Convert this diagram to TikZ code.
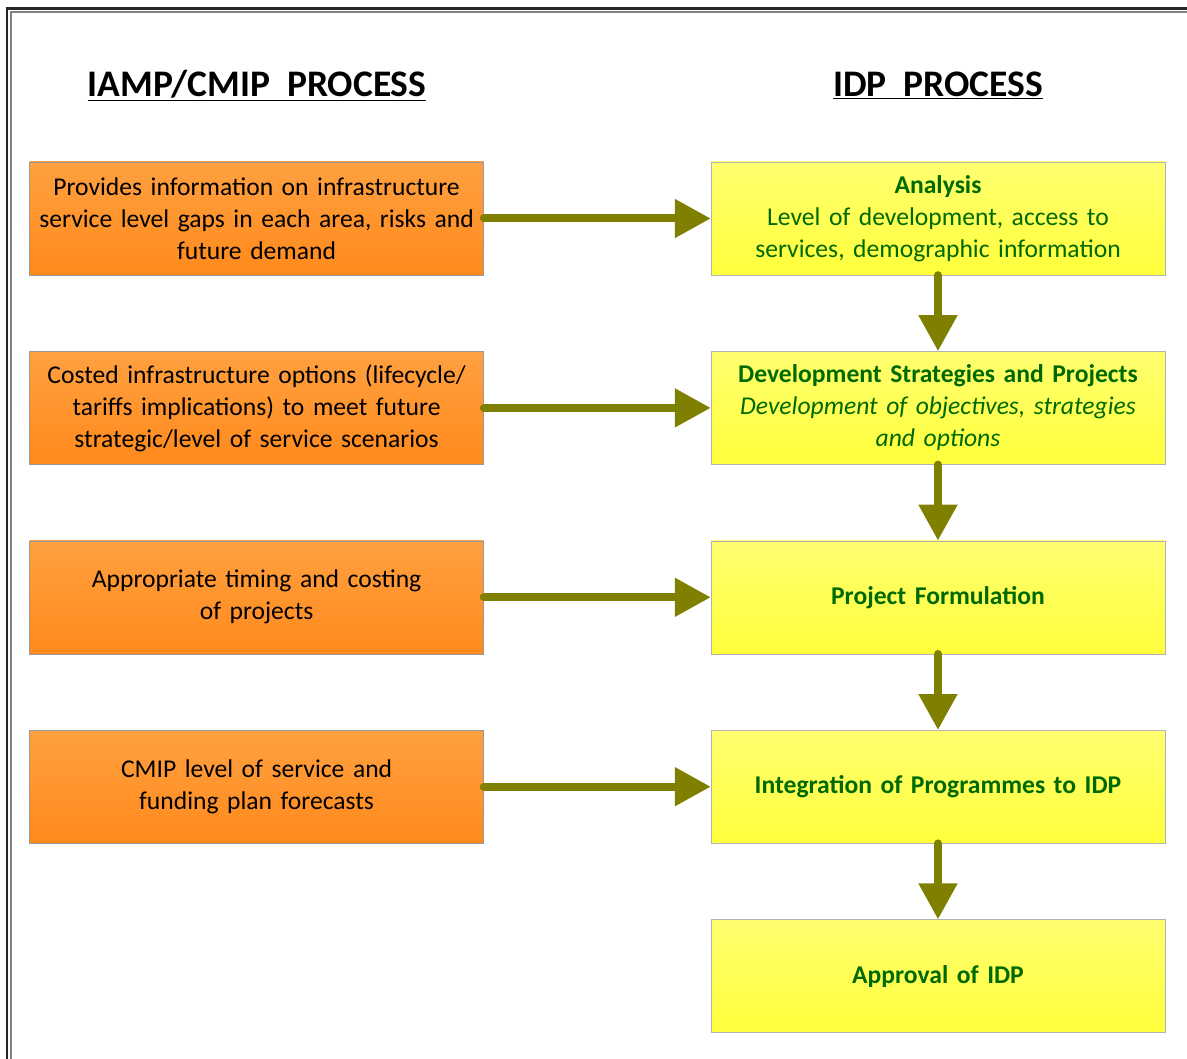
\documentclass[tikz,border=0pt]{standalone}
\usepackage{fontspec}
\setmainfont{Carlito}
\usetikzlibrary{positioning,arrows.meta}
\definecolor{orangetop}{HTML}{FFA040}
\definecolor{orangebot}{HTML}{FF8A1C}
\definecolor{yellowtop}{HTML}{FFFF70}
\definecolor{yellowbot}{HTML}{FFFF3C}
\definecolor{arrowolive}{HTML}{808000}
\definecolor{idpgreen}{HTML}{006A00}
\begin{document}
\begin{tikzpicture}[x=1pt, y=-1pt,
        header/.style={font=\fontsize{37.5}{44}\selectfont\bfseries},
        leftbox/.style={rectangle, draw=black!40, top color=orangetop, bottom color=orangebot,
            minimum width=454pt, minimum height=113pt, text width=446pt, align=center, inner sep=0pt,
            font=\fontsize{25.6}{32}\selectfont},
        rightbox/.style={rectangle, draw=black!30, top color=yellowtop, bottom color=yellowbot,
            minimum width=454pt, minimum height=113pt, text width=446pt, align=center, inner sep=0pt,
            text=idpgreen, font=\fontsize{25.6}{32}\selectfont},
        flowarrow/.style={draw=arrowolive, line width=8pt, line cap=round,
            -{Triangle[length=36pt, width=37pt]}}
    ]
    \useasboundingbox (0,0) rectangle (1187,1059);
    % frame
    \draw[line width=2.5pt, black!85] (7,1070) -- (7,8.5) -- (1200,8.5);
    \draw[line width=1.2pt, black!50] (11,1070) -- (11,12) -- (1200,12);
    % headers
    \node[header, anchor=base] (hleft) at (257,97) {\underline{IAMP/CMIP\ \ PROCESS}};
    \node[header, anchor=base] (hright) at (938,97) {\underline{IDP\ \ PROCESS}};
    % IDP column
    \node[rightbox] (analysis) at (938,218.5) {\textbf{Analysis}\\Level of development, access to\\services, demographic information};
    \node[rightbox, below=76pt of analysis] (strategies) {\textbf{Development Strategies and Projects}\\\textit{Development of objectives, strategies}\\\textit{and options}};
    \node[rightbox, below=76pt of strategies] (formulation) {\textbf{Project Formulation}};
    \node[rightbox, below=76pt of formulation] (integration) {\textbf{Integration of Programmes to IDP}};
    \node[rightbox, below=76pt of integration] (approval) {\textbf{Approval of IDP}};
    % IAMP/CMIP column
    \node[leftbox, left=227pt of analysis] (gaps) {Provides information on infrastructure\\service level gaps in each area, risks and\\future demand};
    \node[leftbox, left=227pt of strategies] (options) {Costed infrastructure options (lifecycle/\\tariffs implications) to meet future\\strategic/level of service scenarios};
    \node[leftbox, left=227pt of formulation] (timing) {Appropriate timing and costing\\of projects};
    \node[leftbox, left=227pt of integration] (forecasts) {CMIP level of service and\\funding plan forecasts};
    % arrows
    \draw[flowarrow] (gaps) -- (analysis);
    \draw[flowarrow] (options) -- (strategies);
    \draw[flowarrow] (timing) -- (formulation);
    \draw[flowarrow] (forecasts) -- (integration);
    \draw[flowarrow] (analysis) -- (strategies);
    \draw[flowarrow] (strategies) -- (formulation);
    \draw[flowarrow] (formulation) -- (integration);
    \draw[flowarrow] (integration) -- (approval);
\end{tikzpicture}
\end{document}
